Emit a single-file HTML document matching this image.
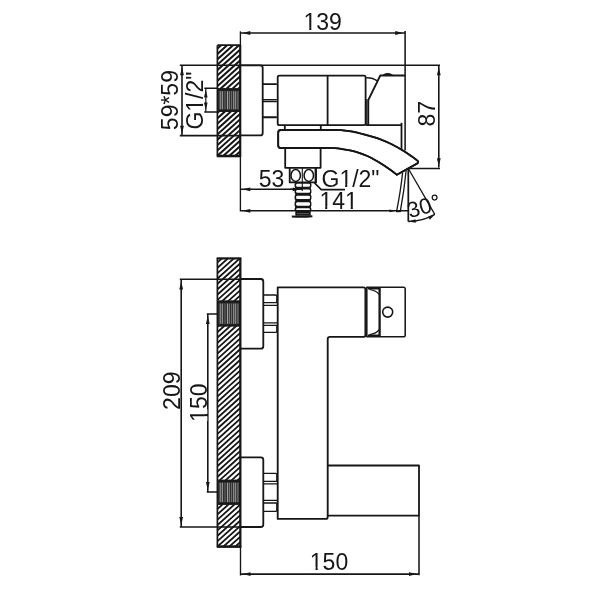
<!DOCTYPE html>
<html><head><meta charset="utf-8"><title>Faucet dimension drawing</title>
<style>
html,body{margin:0;padding:0;background:#fff;}
body{width:600px;height:600px;overflow:hidden;}
svg{display:block;will-change:transform;}
text{font-family:"Liberation Sans",sans-serif;font-size:23px;fill:#161616;}
</style></head><body>
<svg width="600" height="600" viewBox="0 0 600 600">
<defs>
<clipPath id="cw1"><rect x="217.4" y="45.2" width="23" height="110.6"/></clipPath>
<clipPath id="cw2"><rect x="217.4" y="258.2" width="23.1" height="288.4"/></clipPath>
</defs>
<rect width="600" height="600" fill="#fff"/>

<path clip-path="url(#cw1)" d="M216.4 38.82L241.4 16.31M216.4 44.18L241.4 21.67M216.4 49.54L241.4 27.03M216.4 54.9L241.4 32.39M216.4 60.26L241.4 37.75M216.4 65.62L241.4 43.11M216.4 70.98L241.4 48.47M216.4 76.34L241.4 53.83M216.4 81.7L241.4 59.19M216.4 87.06L241.4 64.55M216.4 92.42L241.4 69.91M216.4 97.78L241.4 75.27M216.4 103.14L241.4 80.63M216.4 108.5L241.4 85.99M216.4 113.86L241.4 91.35M216.4 119.22L241.4 96.71M216.4 124.58L241.4 102.07M216.4 129.94L241.4 107.43M216.4 135.3L241.4 112.79M216.4 140.66L241.4 118.15M216.4 146.02L241.4 123.51M216.4 151.38L241.4 128.87M216.4 156.74L241.4 134.23M216.4 162.1L241.4 139.59M216.4 167.46L241.4 144.95M216.4 172.82L241.4 150.31M216.4 178.18L241.4 155.67" fill="none" stroke="#161616" stroke-width="2"/>
<path clip-path="url(#cw2)" d="M216.4 252.7L241.5 230.1M216.4 258.06L241.5 235.46M216.4 263.42L241.5 240.82M216.4 268.78L241.5 246.18M216.4 274.14L241.5 251.54M216.4 279.5L241.5 256.9M216.4 284.86L241.5 262.26M216.4 290.22L241.5 267.62M216.4 295.58L241.5 272.98M216.4 300.94L241.5 278.34M216.4 306.3L241.5 283.7M216.4 311.66L241.5 289.06M216.4 317.02L241.5 294.42M216.4 322.38L241.5 299.78M216.4 327.74L241.5 305.14M216.4 333.1L241.5 310.5M216.4 338.46L241.5 315.86M216.4 343.82L241.5 321.22M216.4 349.18L241.5 326.58M216.4 354.54L241.5 331.94M216.4 359.9L241.5 337.3M216.4 365.26L241.5 342.66M216.4 370.62L241.5 348.02M216.4 375.98L241.5 353.38M216.4 381.34L241.5 358.74M216.4 386.7L241.5 364.1M216.4 392.06L241.5 369.46M216.4 397.42L241.5 374.82M216.4 402.78L241.5 380.18M216.4 408.14L241.5 385.54M216.4 413.5L241.5 390.9M216.4 418.86L241.5 396.26M216.4 424.22L241.5 401.62M216.4 429.58L241.5 406.98M216.4 434.94L241.5 412.34M216.4 440.3L241.5 417.7M216.4 445.66L241.5 423.06M216.4 451.02L241.5 428.42M216.4 456.38L241.5 433.78M216.4 461.74L241.5 439.14M216.4 467.1L241.5 444.5M216.4 472.46L241.5 449.86M216.4 477.82L241.5 455.22M216.4 483.18L241.5 460.58M216.4 488.54L241.5 465.94M216.4 493.9L241.5 471.3M216.4 499.26L241.5 476.66M216.4 504.62L241.5 482.02M216.4 509.98L241.5 487.38M216.4 515.34L241.5 492.74M216.4 520.7L241.5 498.1M216.4 526.06L241.5 503.46M216.4 531.42L241.5 508.82M216.4 536.78L241.5 514.18M216.4 542.14L241.5 519.54M216.4 547.5L241.5 524.9M216.4 552.86L241.5 530.26M216.4 558.22L241.5 535.62M216.4 563.58L241.5 540.98M216.4 568.94L241.5 546.34" fill="none" stroke="#161616" stroke-width="1.8"/>
<rect x="217.4" y="88.2" width="23" height="23.8" fill="#303030"/>
<path d="M220.25 91.2V109.4" stroke="#b8b8b8" stroke-width="0.8" fill="none"/>
<path d="M222.3 91.2V109.4" stroke="#c8c8c8" stroke-width="0.8" fill="none"/>
<path d="M225 91.2V109.4" stroke="#808080" stroke-width="0.7" fill="none"/>
<path d="M227.5 91.2V109.4" stroke="#c0c0c0" stroke-width="0.8" fill="none"/>
<path d="M229.3 91.2V109.4" stroke="#b0b0b0" stroke-width="0.7" fill="none"/>
<path d="M231.5 91.2V109.4" stroke="#858585" stroke-width="0.7" fill="none"/>
<path d="M233.75 91.2V109.4" stroke="#c6c6c6" stroke-width="0.8" fill="none"/>
<path d="M235.7 91.2V109.4" stroke="#b8b8b8" stroke-width="0.8" fill="none"/>
<path d="M237.9 91.2V109.4" stroke="#a0a0a0" stroke-width="0.7" fill="none"/>
<path d="M217.4 89.3H240.4M217.4 110.9H240.4" stroke="#1a1a1a" stroke-width="2.300" fill="none"/>
<rect x="217.4" y="300.6" width="23.1" height="25.8" fill="#303030"/>
<path d="M220.25 303.6V323.8" stroke="#b8b8b8" stroke-width="0.8" fill="none"/>
<path d="M222.3 303.6V323.8" stroke="#c8c8c8" stroke-width="0.8" fill="none"/>
<path d="M225 303.6V323.8" stroke="#808080" stroke-width="0.7" fill="none"/>
<path d="M227.5 303.6V323.8" stroke="#c0c0c0" stroke-width="0.8" fill="none"/>
<path d="M229.3 303.6V323.8" stroke="#b0b0b0" stroke-width="0.7" fill="none"/>
<path d="M231.5 303.6V323.8" stroke="#858585" stroke-width="0.7" fill="none"/>
<path d="M233.75 303.6V323.8" stroke="#c6c6c6" stroke-width="0.8" fill="none"/>
<path d="M235.7 303.6V323.8" stroke="#b8b8b8" stroke-width="0.8" fill="none"/>
<path d="M237.9 303.6V323.8" stroke="#a0a0a0" stroke-width="0.7" fill="none"/>
<path d="M217.4 301.7H240.5M217.4 325.3H240.5" stroke="#1a1a1a" stroke-width="2.300" fill="none"/>
<rect x="217.4" y="479.8" width="23.1" height="25" fill="#303030"/>
<path d="M220.25 482.8V502.2" stroke="#b8b8b8" stroke-width="0.8" fill="none"/>
<path d="M222.3 482.8V502.2" stroke="#c8c8c8" stroke-width="0.8" fill="none"/>
<path d="M225 482.8V502.2" stroke="#808080" stroke-width="0.7" fill="none"/>
<path d="M227.5 482.8V502.2" stroke="#c0c0c0" stroke-width="0.8" fill="none"/>
<path d="M229.3 482.8V502.2" stroke="#b0b0b0" stroke-width="0.7" fill="none"/>
<path d="M231.5 482.8V502.2" stroke="#858585" stroke-width="0.7" fill="none"/>
<path d="M233.75 482.8V502.2" stroke="#c6c6c6" stroke-width="0.8" fill="none"/>
<path d="M235.7 482.8V502.2" stroke="#b8b8b8" stroke-width="0.8" fill="none"/>
<path d="M237.9 482.8V502.2" stroke="#a0a0a0" stroke-width="0.7" fill="none"/>
<path d="M217.4 480.9H240.5M217.4 503.7H240.5" stroke="#1a1a1a" stroke-width="2.300" fill="none"/>
<g fill="none" stroke="#161616" stroke-width="1.8" stroke-linecap="butt" stroke-linejoin="round">
<path d="M217.4 45.2H240.4M217.4 45.2V155.8" stroke-width="1.7"/>
<path d="M216.7 156H241" stroke-width="2.6"/>
<path d="M240.4 31.3V211.3" stroke-width="1.35"/>
<path d="M240.2 45V157" stroke-width="2.1"/>
<path d="M240.4 33H405.1" stroke-width="1.6"/>
<path d="M405.1 31V150.5" stroke-width="1.55"/>
<path d="M179.8 65.3H440" stroke-width="1.55"/>
<path d="M179.8 135.6H240.4" stroke-width="1.55"/>
<path d="M240.4 65.3H260.2a2.5 2.5 0 0 1 2.5 2.5V132.9a2.5 2.5 0 0 1 -2.5 2.500H240.4"/>
<path d="M182 66V135" stroke-width="1.6"/>
<path d="M204.3 88.3H217.4M204.3 111.9H217.4" stroke-width="1.55"/><path d="M205.8 88.3V111.9" stroke-width="1.2"/>
<path d="M262.7 84.100H276.8M262.7 117.200H276.800" stroke-width="1.900"/>
<path d="M262.7 99.600H276.8M262.7 101.500H276.800" stroke-width="1.300"/>
<path d="M279.5 75.700H364a1.600 1.600 0 0 1 1.600 1.600V123.6a1.600 1.600 0 0 1 -1.600 1.600H279.5a1.8 1.8 0 0 1 -1.8 -1.8V77.500a1.800 1.800 0 0 1 1.800 -1.800Z" stroke-width="1.8"/>
<path d="M327.6 75.700V125.2"/>
<path d="M368.3 125.2V100L380.3 75.500H405.1"/>
<path d="M366.8 99V125" stroke-width="1.2"/>
<path d="M366.300 77.700Q372.800 77.500 377.300 80.900" stroke-width="1.500"/>
<path d="M382.300 75.500Q387.700 71.300 393.100 75.500Z" fill="#161616" stroke-width="1"/>
<path d="M365.600 125.2H401.500M401.500 122.800V149.5"/>
<path d="M284.800 125.200V130M320.800 125.200V130"/>
<path d="M335 130C336 130.03 338.17 129.95 341 130.2C343.83 130.45 348.5 130.9 352 131.5C355.5 132.1 358.67 132.95 362 133.8C365.33 134.65 369 135.7 372 136.6C375 137.5 376.72 137.92 380 139.2C383.28 140.48 387.82 142.37 391.7 144.3C395.58 146.23 399.92 148.75 403.3 150.8C406.68 152.85 409.78 155.07 412 156.6C414.22 158.13 415.83 159.43 416.6 160Q419.6 162.100 417.300 163.400L396.900 174.800C396.03 174.13 393.97 172.43 391.7 170.8C389.43 169.17 386.08 166.8 383.3 165C380.52 163.2 377.77 161.53 375 160C372.23 158.47 369.48 157.03 366.7 155.8C363.92 154.57 361.08 153.5 358.3 152.6C355.52 151.7 352.77 151 350 150.4C347.23 149.8 344.2 149.37 341.7 149C339.2 148.63 337.28 148.37 335 148.2C332.72 148.03 329.17 148.03 328 148H280.7a2.5 2.5 0 0 1 -2.500 -2.500V132.500a2.500 2.500 0 0 1 2.500 -2.500Z" fill="#fff"/>
<path d="M285.200 148V167.800H320.600V148"/>
<path d="M289.700 167.800V182.400H316V167.800" />
<path d="M315.6 168V182.400" stroke-width="2"/>
<ellipse cx="295.700" cy="175.400" rx="4.700" ry="6.000" stroke-width="1.55"/>
<ellipse cx="308.800" cy="175.400" rx="4.700" ry="6.000" stroke-width="1.550"/>
<path d="M302.300 168V190.500" stroke-width="1.1"/>
<path d="M240.400 189.300H302" stroke-width="1.6"/>
<path d="M314.300 182.600L321.200 189.600H345" stroke-width="1.600"/>
<path d="M240.400 210.800H408.300" stroke-width="1.600"/>
<path d="M438.800 66V167.500" stroke-width="1.600"/>
<path d="M407.700 168.500H440" stroke-width="1.550"/>
<path d="M402.600 172.600Q400.800 190 396.600 211.300M406.100 170.800Q404.300 190 400.300 211.300" stroke-width="1.300"/>
<path d="M396 211.200H400.800" stroke-width="2"/>
<path d="M408.300 168.500V221.500" stroke-width="1.750"/>
<path d="M408.300 168.500L434.800 214.400" stroke-width="1.300"/>
<path d="M408.300 221.500A53 53 0 0 0 434.800 214.400" stroke-width="1.400"/>
<path d="M217.400 258.200V546.600" stroke-width="1.700"/>
<path d="M216.700 258.400H241.300" stroke-width="2.200"/>
<path d="M216.700 546.600H241.300" stroke-width="2.600"/>
<path d="M240.500 258.200V575.400" stroke-width="1.350"/>
<path d="M240.300 258.200V547.500" stroke-width="2.100"/>
<path d="M240.600 279 H260.800a2.500 2.500 0 0 1 2.500 2.500V346.2a2.500 2.500 0 0 1 -2.500 2.500H240.600"/>
<path d="M240.600 457.3 H260.800a2.500 2.500 0 0 1 2.500 2.500V524.5a2.500 2.500 0 0 1 -2.500 2.500H240.600"/>
<path d="M179.800 279.200H240.600M179.800 527H240.600" stroke-width="1.600"/>
<path d="M181.200 279V527" stroke-width="1.600"/>
<path d="M206.800 314H217.400M206.800 492H217.400" stroke-width="1.550"/>
<path d="M207.800 314V492" stroke-width="1.600"/>
<path d="M263.300 295 H275.600a1.200 1.200 0 0 1 1.200 1.200V302.7M263.300 302.7H277.200M263.300 305.3H277.200M263.300 322.8H277.200M263.300 325.4H277.200M276.800 325.4V331.2a1.200 1.200 0 0 1 -1.200 1.200H263.300" stroke-width="1.300"/>
<path d="M263.300 473.3 H275.600a1.200 1.200 0 0 1 1.200 1.200V481.3M263.300 481.3H277.200M263.300 483.9H277.200M263.300 500.4H277.200M263.300 503H277.200M276.800 503V510.1a1.200 1.200 0 0 1 -1.200 1.200H263.300" stroke-width="1.300"/>
<path d="M277.700 287.300H363.400a2 2 0 0 1 2 2V334.900a2 2 0 0 1 -2 2H330.000a2.300 2.300 0 0 0 -2.300 2.300V516.900a2 2 0 0 1 -2 2H277.700Z" stroke-width="1.850"/>
<path d="M327.600 465.500H419V515.600H327.600"/>
<path d="M366.800 287.300H403.700a1.500 1.500 0 0 1 1.500 1.500V335.300a1.500 1.500 0 0 1 -1.500 1.500H366.800Z" stroke-width="1.550"/>
<path d="M379.600 287.300V336.800" stroke-width="2.300"/>
<path d="M367.800 288.300H379.600M367.800 335.800H379.600" stroke-width="2.600"/>
<path d="M369.500 289.500Q376.500 290.500 379 294.500M369.500 334.600Q376.500 333.600 379 329.600" stroke-width="1.200"/>
<circle cx="387.700" cy="312.100" r="5" stroke-width="1.550"/>
<path d="M419 515.600V575.300" stroke-width="1.550"/>
<path d="M240.600 574.100H419" stroke-width="1.600"/>
</g>
<rect x="295.300" y="182.400" width="15.400" height="33.400" fill="#161616"/>
<rect x="294.600" y="182.15" width="16.800" height="6.1" rx="2" fill="#161616"/>
<rect x="296.100" y="183.65" width="13.900" height="3.1" rx="1.300" fill="#fff"/>
<rect x="294.600" y="188" width="16.800" height="6.2" rx="2" fill="#161616"/>
<rect x="296.100" y="189.5" width="13.900" height="3.2" rx="1.300" fill="#fff"/>
<rect x="294.600" y="194.15" width="16.800" height="6.3" rx="2" fill="#161616"/>
<rect x="296.100" y="195.65" width="13.900" height="3.3" rx="1.300" fill="#fff"/>
<rect x="294.600" y="200.85" width="16.800" height="6.3" rx="2" fill="#161616"/>
<rect x="296.100" y="202.35" width="13.900" height="3.3" rx="1.300" fill="#fff"/>
<rect x="294.600" y="206.8" width="16.800" height="4.8" rx="2" fill="#161616"/>
<rect x="296.100" y="208.3" width="13.900" height="1.8" rx="1.300" fill="#fff"/>
<path d="M297 213.600H309" stroke="#777" stroke-width="0.700" fill="none"/>
<path d="M291.800 216.500Q302 217.300 312.400 216.300" stroke="#161616" stroke-width="1.900" fill="none"/>
<path d="M302.300 183V191" stroke="#161616" stroke-width="1.100" fill="none"/>
<path d="M290 189.300H302" stroke="#161616" stroke-width="1.300" fill="none"/>
<path d="M335 130C336 130.03 338.17 129.95 341 130.2C343.83 130.45 348.5 130.9 352 131.5C355.5 132.1 358.67 132.95 362 133.8C365.33 134.65 369 135.7 372 136.6C375 137.5 376.72 137.92 380 139.2C383.28 140.48 387.82 142.37 391.7 144.3C395.58 146.23 399.92 148.75 403.3 150.8C406.68 152.85 409.78 155.07 412 156.6C414.22 158.13 415.83 159.43 416.6 160Q419.6 162.100 417.300 163.400L396.900 174.800C396.03 174.13 393.97 172.43 391.7 170.8C389.43 169.17 386.08 166.8 383.3 165C380.52 163.2 377.77 161.53 375 160C372.23 158.47 369.48 157.03 366.7 155.8C363.92 154.57 361.08 153.5 358.3 152.6C355.52 151.7 352.77 151 350 150.4C347.23 149.8 344.2 149.37 341.7 149C339.2 148.63 337.28 148.37 335 148.2C332.72 148.03 329.17 148.03 328 148H280.7a2.5 2.5 0 0 1 -2.500 -2.500V132.500a2.500 2.500 0 0 1 2.500 -2.500Z" fill="none" stroke="#161616" stroke-width="1.750" stroke-linejoin="round"/>
<path d="M242.3 33l8 -1.9v3.8zM403.2 33l-8 -1.9v3.8zM182 67.3l-1.9 8h3.8zM182 133.7l-1.9 -8h3.8zM205.8 89.6l-1.8 8h3.6zM205.8 110.6l-1.8 -8h3.6zM438.8 67.3l-1.9 8h3.8zM438.8 166.2l-1.9 -8h3.8zM242.3 189.3l8 -1.9v3.8zM300.7 189.3l-8 -1.9v3.8zM242.3 210.8l8 -1.9v3.8zM395.9 210.8l-6.5 -1.4v2.8zM181.2 281.6l-1.9 8h3.8zM181.2 525l-1.9 -8h3.8zM207.8 316.1l-1.9 8h3.8zM207.8 490l-1.9 -8h3.8zM242.6 574.1l8 -1.9v3.8zM417 574.1l-8 -1.9v3.8zM408.600 221.600l6.800 -2.300l0.400 3.500zM434.700 214.500l-4.800 5.200l-1.700 -3.200z" fill="#161616"/>
<g><text x="322.7" y="29.7" text-anchor="middle">139</text><rect x="304.36" y="27.38" width="4.88" height="2.77" fill="#fff"/><rect x="311.38" y="27.38" width="4.7" height="2.77" fill="#fff"/></g>
<g><text x="271.5" y="186.7" text-anchor="middle">53</text></g>
<g><text x="321.5" y="186.7">G1/2&quot;</text><rect x="340.24" y="184.38" width="4.88" height="2.77" fill="#fff"/><rect x="347.26" y="184.38" width="4.7" height="2.77" fill="#fff"/></g>
<g><text x="338.6" y="208.7" text-anchor="middle">141</text><rect x="320.26" y="206.38" width="4.88" height="2.77" fill="#fff"/><rect x="327.28" y="206.38" width="4.7" height="2.77" fill="#fff"/><rect x="345.85" y="206.38" width="4.88" height="2.77" fill="#fff"/><rect x="352.86" y="206.38" width="4.7" height="2.77" fill="#fff"/></g>
<g><text x="329" y="569.5" text-anchor="middle">150</text><rect x="310.66" y="567.18" width="4.88" height="2.77" fill="#fff"/><rect x="317.68" y="567.18" width="4.7" height="2.77" fill="#fff"/></g>
<g transform="translate(178 100.1) rotate(-90)"><text x="0" y="0" text-anchor="middle">59*59</text></g>
<g transform="translate(202.8 100.6) rotate(-90)"><text x="0" y="0" text-anchor="middle">G1/2&quot;</text><rect x="-10.27" y="-2.32" width="4.88" height="2.77" fill="#fff"/><rect x="-3.26" y="-2.32" width="4.7" height="2.77" fill="#fff"/></g>
<g transform="translate(434.7 113.7) rotate(-90)"><text x="0" y="0" text-anchor="middle">87</text></g>
<g transform="translate(179.8 390.7) rotate(-90)"><text x="0" y="0" text-anchor="middle">209</text></g>
<g transform="translate(206.9 402.7) rotate(-90)"><text x="0" y="0" text-anchor="middle">150</text><rect x="-18.34" y="-2.32" width="4.88" height="2.77" fill="#fff"/><rect x="-11.32" y="-2.32" width="4.7" height="2.77" fill="#fff"/></g>
<text transform="translate(409.800 218.300) rotate(-16)" style="font-size:22px">30</text>
<circle cx="434.600" cy="197.600" r="2.400" fill="none" stroke="#161616" stroke-width="1.250"/>
</svg>
</body></html>
